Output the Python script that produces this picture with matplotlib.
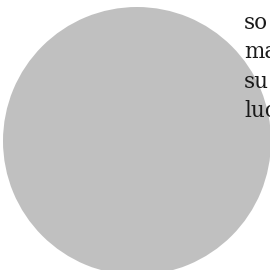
import matplotlib
matplotlib.use('Agg')
import matplotlib.pyplot as plt

# one slice only, full circle
values = [1]
colors = ['#c0c0c0']
# text lines on the right (cut off by the figure edge)
words = ['so', 'ma', 'su', 'luc']

fig = plt.figure(figsize=(2.7, 2.7), dpi=100)
ax = fig.add_axes([3 / 270, -5 / 270, 268 / 270, 268 / 270])
ax.pie(values, colors=colors, radius=1, startangle=90)
ax.set_xlim(-1, 1)
ax.set_ylim(-1, 1)
ax.set_aspect('equal')
ax.axis('off')

# baselines in pixels from the top
y0 = 29
step = 29.3
for i, w in enumerate(words):
    fig.text(244 / 270, 1 - (y0 + i * step) / 270, w, family='DejaVu Serif',
             fontsize=15.5, color='#1a1a1a', ha='left', va='baseline')

fig.savefig('out.png', dpi=100)
